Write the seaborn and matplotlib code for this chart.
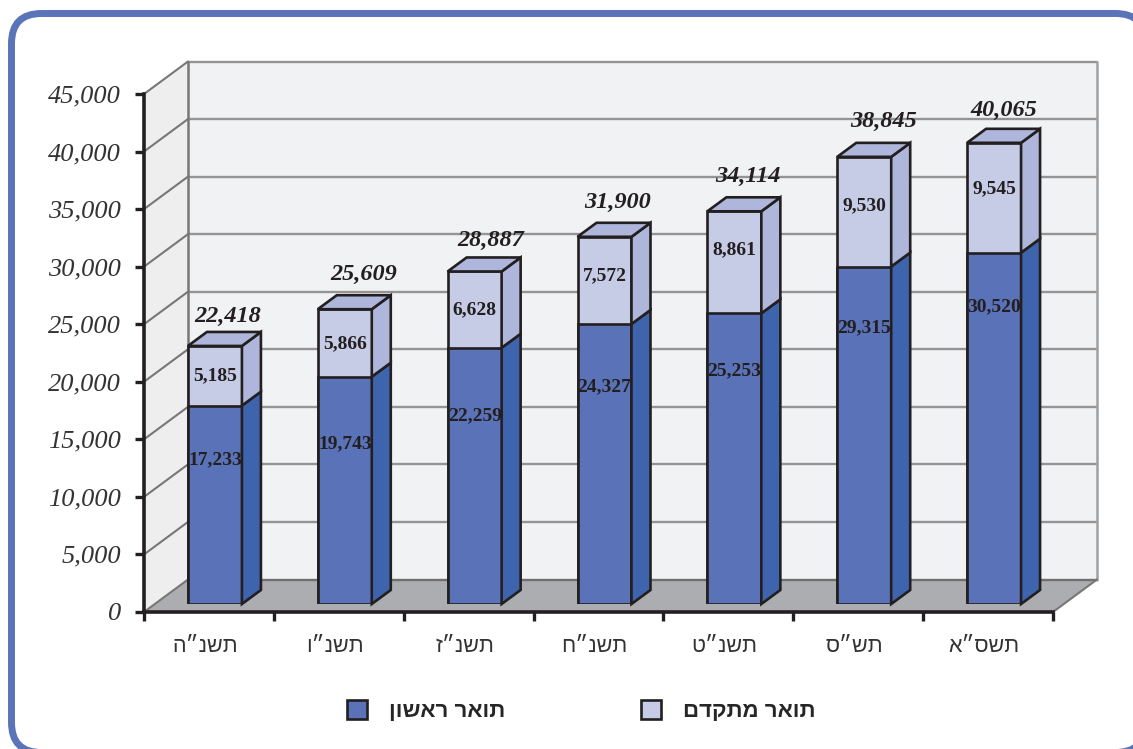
import pandas as pd
import seaborn as sns
import matplotlib.pyplot as plt
from matplotlib.patches import FancyBboxPatch, Patch, Polygon
from matplotlib.transforms import ScaledTranslation

# values
years = ["תשנ״ה", "תשנ״ו", "תשנ״ז", "תשנ״ח", "תשנ״ט", "תש״ס", "תשס״א"]
first_degree = [17233, 19743, 22259, 24327, 25253, 29315, 30520]
advanced_degree = [5185, 5866, 6628, 7572, 8861, 9530, 9545]
totals = [22418, 25609, 28887, 31900, 34114, 38845, 40065]
y_ticks = [0, 5000, 10000, 15000, 20000, 25000, 30000, 35000, 40000, 45000]
series_names = ["תואר ראשון", "תואר מתקדם"]

# label placement in pixels, the original labels are not regular
total_dx = [13, 19, 16, 13, 14, 19, 10]
total_dy = [15, 21, 17, 20, 21, 21, 18]
first_dy = [-54, -67, -68, -63, -57, -61, -54]
advanced_dy = [0, -1, 0, 5, 13, 6, 9]

W, H = 1133, 749
INK = "#231f20"
DARK, DARK_SIDE = "#5a72b8", "#3f64ae"
LIGHT, LIGHT_SIDE = "#c6cbe6", "#aeb6db"


def rtl(s):
    # matplotlib has no bidi, so Hebrew goes in visual order
    return s[::-1]


def px_axes(fig, left, bottom, right, top):
    return fig.add_axes([left / W, 1 - bottom / H, (right - left) / W, (bottom - top) / H])


df = pd.DataFrame({"year": years, "first": first_degree, "total": totals})

sns.set_theme(style="white")
plt.rcParams["font.family"] = ["Liberation Serif", "DejaVu Sans"]

fig = plt.figure(figsize=(W / 100, H / 100), dpi=100)

# rounded blue frame, runs off the right and bottom edges
bg = fig.add_axes([0, 0, 1, 1], zorder=0)
bg.set_xlim(0, W)
bg.set_ylim(H, 0)
bg.axis("off")
bg.add_patch(FancyBboxPatch((11.5, 13.5), 1134, 739, boxstyle="round,pad=0,rounding_size=30",
                            fc="white", ec="#5a74b9", lw=5))

# walls, floor and axes
ax = px_axes(fig, 144, 612, 1053, 94)
ax.set_zorder(1)
ax.patch.set_visible(False)
ax.set_xlim(-0.5, 6.5)
ax.set_ylim(0, 45000)
wall_dx = 44 / 129.9
wall_dy = 32.5 / 518 * 45000
x0, x1, top = -0.5, 6.5, y_ticks[-1]
ax.add_patch(Polygon([(x0 + wall_dx, wall_dy), (x1 + wall_dx, wall_dy), (x1 + wall_dx, top + wall_dy),
                      (x0 + wall_dx, top + wall_dy)], fc="#f1f2f4", ec="none", clip_on=False, zorder=1))
ax.add_patch(Polygon([(x0, 0), (x0 + wall_dx, wall_dy), (x0 + wall_dx, top + wall_dy), (x0, top)],
                     fc="#eeeeee", ec="none", clip_on=False, zorder=1))
ax.add_patch(Polygon([(x0, 0), (x1, 0), (x1 + wall_dx, wall_dy), (x0 + wall_dx, wall_dy)],
                     fc="#acadb0", ec="none", clip_on=False, zorder=2))
for t in y_ticks:
    color = "#6f6f6f" if t == 0 else "#949494"
    ax.plot([x0 + wall_dx, x1 + wall_dx], [t + wall_dy] * 2, color=color, lw=1.7, clip_on=False, zorder=3)
    ax.plot([x0, x0 + wall_dx], [t, t + wall_dy], color="#777777", lw=1.5, clip_on=False, zorder=3)
ax.plot([x0 + wall_dx] * 2, [wall_dy, top + wall_dy], color="#777777", lw=1.8, clip_on=False, zorder=3)
ax.plot([x1 + wall_dx] * 2, [wall_dy, top + wall_dy], color="#a0a0a0", lw=1.8, clip_on=False, zorder=3)
ax.plot([x1, x1 + wall_dx], [0, wall_dy], color="#777777", lw=1.5, clip_on=False, zorder=3)

for side in ["top", "right"]:
    ax.spines[side].set_visible(False)
for side in ["left", "bottom"]:
    ax.spines[side].set_linewidth(2.6)
    ax.spines[side].set_color(INK)
    ax.spines[side].set_zorder(6)
ax.set_yticks(y_ticks, [f"{t:,}" for t in y_ticks], fontsize=19, style="italic", color="#333333")
ax.set_xticks([i - 0.5 for i in range(len(years) + 1)], [""] * (len(years) + 1))
ax.set_xticks(range(len(years)), [rtl(y) for y in years], minor=True, fontsize=15.5,
              family=["Liberation Sans", "DejaVu Sans"], color="#333333")
ax.tick_params(axis="y", length=6.5, width=2.4, color=INK, pad=10, left=True)
ax.tick_params(axis="x", which="major", length=6.5, width=2.4, color=INK, bottom=True)
ax.tick_params(axis="x", which="minor", length=0, pad=17)
nudge = ScaledTranslation(-4 / 100, 0, fig.dpi_scale_trans)
for lab in ax.get_xticklabels(minor=True):
    lab.set_transform(lab.get_transform() + nudge)

# bars sit a little way into the depth of the floor, so they get their own shifted axes
bar_ax = px_axes(fig, 150, 604, 1059, 86)
bar_ax.set_zorder(2)
bar_ax.patch.set_visible(False)
bar_w = 54 / 129.9
edge = dict(edgecolor=INK, linewidth=1.9, saturation=1, width=bar_w)
sns.barplot(data=df, x="year", y="total", color=LIGHT, ax=bar_ax, **edge)
sns.barplot(data=df, x="year", y="first", color=DARK, ax=bar_ax, **edge)
bar_ax.set_xlim(-0.5, 6.5)
bar_ax.set_ylim(0, 45000)
bar_ax.axis("off")

bar_dx = 19 / 129.9
bar_dy = 14 / 518 * 45000
face = dict(ec=INK, lw=1.9, clip_on=False, zorder=1.5, joinstyle="miter")
for i, (low, adv, high) in enumerate(zip(first_degree, advanced_degree, totals)):
    right = i + bar_w / 2
    left = i - bar_w / 2
    bar_ax.add_patch(Polygon([(right, 0), (right + bar_dx, bar_dy), (right + bar_dx, low + bar_dy), (right, low)],
                             fc=DARK_SIDE, **face))
    bar_ax.add_patch(Polygon([(right, low), (right + bar_dx, low + bar_dy), (right + bar_dx, high + bar_dy), (right, high)],
                             fc=LIGHT_SIDE, **face))
    bar_ax.add_patch(Polygon([(left, high), (right, high), (right + bar_dx, high + bar_dy), (left + bar_dx, high + bar_dy)],
                             fc=LIGHT_SIDE, **face))

    bar_ax.annotate(f"{high:,}", (i, high + bar_dy), xytext=(total_dx[i], total_dy[i]), textcoords="offset pixels",
                    ha="center", va="center", fontsize=17.5, style="italic", weight="bold", color=INK,
                    annotation_clip=False, zorder=5)
    bar_ax.annotate(f"{low:,}", (i, low), xytext=(0, first_dy[i]), textcoords="offset pixels",
                    ha="center", va="center", fontsize=14, weight="bold", color=INK, zorder=5)
    bar_ax.annotate(f"{adv:,}", (i, low + adv / 2), xytext=(0, advanced_dy[i]), textcoords="offset pixels",
                    ha="center", va="center", fontsize=14, weight="bold", color=INK, zorder=5)

# legend
handles = [Patch(fc=DARK, ec=INK, lw=1.9), Patch(fc=LIGHT, ec=INK, lw=1.9)]
fig.legend(handles, [rtl(n) for n in series_names], loc="center", bbox_to_anchor=(581 / W, 1 - 711 / H),
           ncol=2, frameon=False, handlelength=0.9, handleheight=0.9, handletextpad=1.0, columnspacing=6.1,
           prop=dict(family=["Liberation Sans", "DejaVu Sans"], weight="bold", size=16))

fig.savefig("out.png", dpi=100)
